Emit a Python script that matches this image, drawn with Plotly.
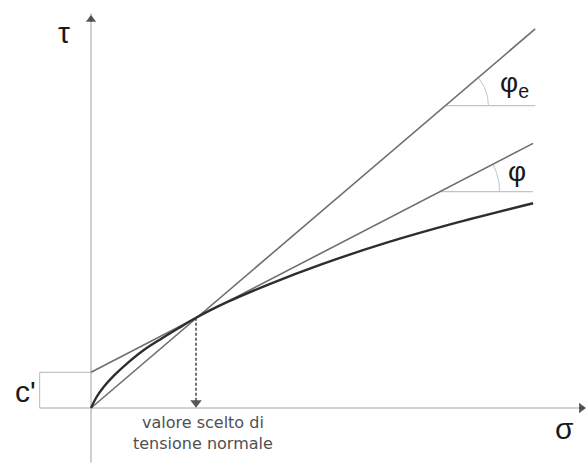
import numpy as np
import plotly.graph_objects as go

# Shear strength envelope (curved) read at points along sigma
sigma_curve = [0, 5, 12, 22, 35, 50, 67, 85, 100, 130, 170, 220, 280, 350, 421]
tau_curve = [0, 10, 20, 31, 43, 55, 66, 77, 86, 101, 118, 137, 157, 177, 195]

# Secant line through origin (phi_e) and tangent line with cohesion c' (phi)
sigma_secant = [0, 423]
tau_secant = [0, 361]
sigma_tangent = [0, 421]
tau_tangent = [34, 252]

# Chosen normal stress (tangent point) and cohesion intercept
sigma_sel = 100
tau_sel = 86
c_prime = 34

# Axis extents
sigma_axis = [-49, 471]
tau_axis = [-52, 376]

# Angle-marker geometry
phi_e_level = 288
phi_level = 206
phi_e_arc_r = 41
phi_arc_r = 57

AX_GRAY = "#c4c4c4"
LINE_GRAY = "#6e6e6e"
CURVE = "#2e2e2e"
FONT = "Liberation Sans, Arial, Helvetica, sans-serif"

fig = go.Figure()


def line(xs, ys, color, width, dash="solid"):
    fig.add_trace(go.Scatter(x=xs, y=ys, mode="lines",
                             line=dict(color=color, width=width, dash=dash),
                             hoverinfo="skip", showlegend=False))


# Coordinate axes
line(sigma_axis, [0, 0], AX_GRAY, 1.6)
line([0, 0], tau_axis, AX_GRAY, 1.6)

# Cohesion bracket
line([sigma_axis[0], 0], [c_prime, c_prime], AX_GRAY, 1.2)
line([sigma_axis[0], sigma_axis[0]], [0, c_prime], AX_GRAY, 1.2)

# Horizontal references and angle arcs
slope_e = (tau_secant[1] - tau_secant[0]) / (sigma_secant[1] - sigma_secant[0])
slope_t = (tau_tangent[1] - tau_tangent[0]) / (sigma_tangent[1] - sigma_tangent[0])

x0e = (phi_e_level - tau_secant[0]) / slope_e
line([x0e, sigma_secant[1]], [phi_e_level, phi_e_level], AX_GRAY, 1.2)
th = np.linspace(0, np.arctan(slope_e), 30)
line(x0e + phi_e_arc_r * np.cos(th), phi_e_level + phi_e_arc_r * np.sin(th), AX_GRAY, 1.0)

x0t = (phi_level - tau_tangent[0]) / slope_t
line([x0t, sigma_tangent[1]], [phi_level, phi_level], AX_GRAY, 1.2)
th = np.linspace(0, np.arctan(slope_t), 30)
line(x0t + phi_arc_r * np.cos(th), phi_level + phi_arc_r * np.sin(th), AX_GRAY, 1.0)

# Envelope lines
line(sigma_secant, tau_secant, LINE_GRAY, 1.6)
line(sigma_tangent, tau_tangent, LINE_GRAY, 1.6)
fig.add_trace(go.Scatter(x=sigma_curve, y=tau_curve, mode="lines",
                         line=dict(color=CURVE, width=2.4, shape="spline", smoothing=1.0),
                         hoverinfo="skip", showlegend=False))

# Dashed drop line to the chosen normal stress
line([sigma_sel, sigma_sel], [tau_sel, 6], "#3a3a3a", 1.4, dash="3px,2px")

# Arrow heads
fig.add_trace(go.Scatter(
    x=[0, sigma_axis[1] - 4, sigma_sel],
    y=[tau_axis[1] - 6, 0, 5],
    mode="markers",
    marker=dict(symbol=["triangle-up", "triangle-right", "triangle-down"],
                size=[9, 9, 10], color="#111111", line=dict(width=0)),
    hoverinfo="skip", showlegend=False))

# Labels
def label(x, y, text, size, color="#1a1a1a", family=FONT):
    fig.add_annotation(x=x, y=y, text=text, showarrow=False,
                       font=dict(family=family, size=size, color=color))


label(-26, 358, "τ", 30)
label(451, -20, "σ", 30)
label(-62, 16, "c'", 30)
label(406, 225, "φ", 28)
label(403, 308, "φ<sub>e</sub>", 28)
label(107, -24, "valore scelto di<br>tensione normale", 16, "#505050",
      "DejaVu Sans, Verdana, sans-serif")

fig.update_layout(
    width=586, height=463,
    margin=dict(l=0, r=0, t=0, b=0),
    paper_bgcolor="white", plot_bgcolor="white",
    xaxis=dict(visible=False, range=[-86.7, 471.4], fixedrange=True),
    yaxis=dict(visible=False, range=[-52.4, 388.6], fixedrange=True),
)

fig.write_html("out.html", config={"displayModeBar": False})
